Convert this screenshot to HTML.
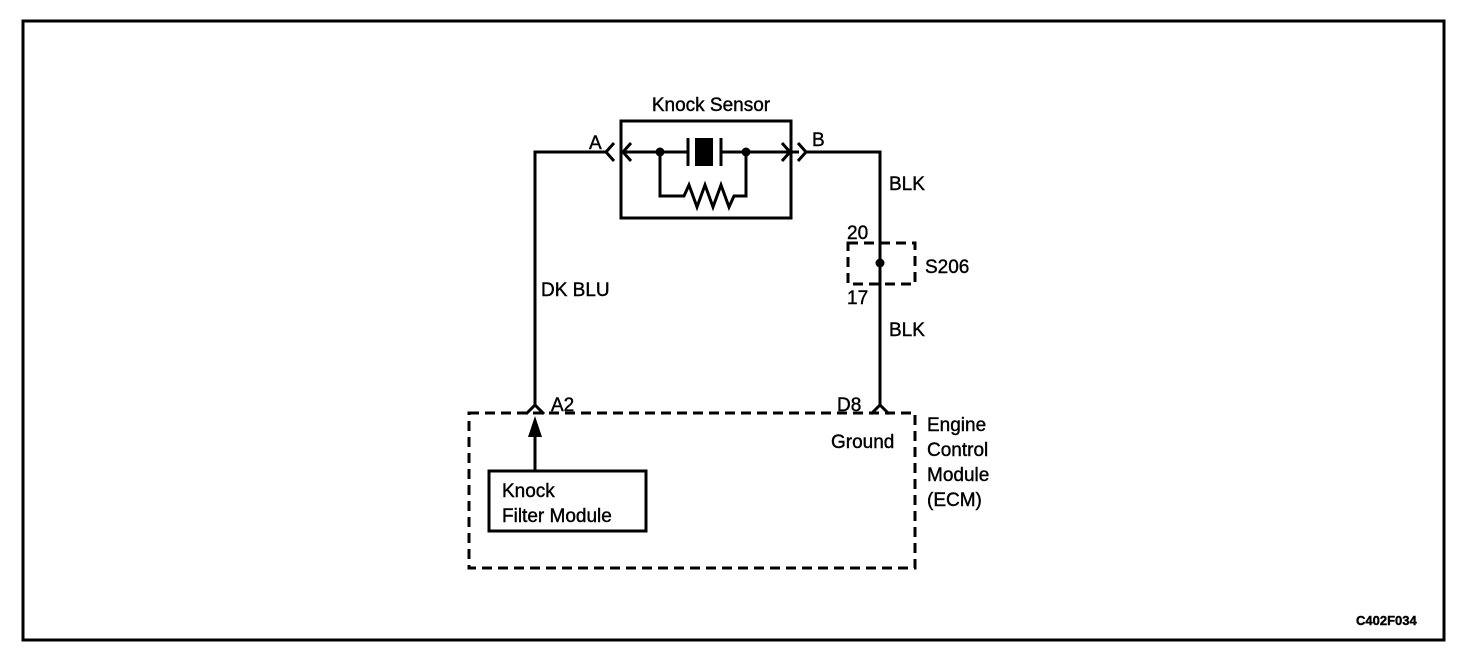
<!DOCTYPE html>
<html><head><meta charset="utf-8"><style>
html,body{margin:0;padding:0;background:#fff;}
svg{display:block;}
text{font-family:"Liberation Sans",Arial,sans-serif;font-size:19px;fill:#000;stroke:#000;stroke-width:0.4;}
</style></head><body>
<svg width="1472" height="662" viewBox="0 0 1472 662" xmlns="http://www.w3.org/2000/svg">
<rect x="23" y="21" width="1421" height="619" fill="none" stroke="#000" stroke-width="3"/>
<g stroke="#000" stroke-width="3" fill="none">
<rect x="621" y="121" width="170" height="97"/>
<polyline points="535,406 535,152 608,152"/>
<polyline points="614,143 606,152 614,161"/>
<polyline points="631,143 623,152 631,161"/>
<line x1="623" y1="152" x2="688" y2="152"/>
<line x1="688" y1="138" x2="688" y2="166"/>
<line x1="721" y1="138" x2="721" y2="166"/>
<line x1="721" y1="152" x2="799" y2="152"/>
<polyline points="782,143 790,152 782,161"/>
<polyline points="798,143 806,152 798,161"/>
<polyline points="806,152 880,152 880,406"/>
<polyline points="660,152 660,196 684,196 689,185 697,207 705,185 713,207 721,185 729,207 734,196 746,196 746,152"/>
<polyline points="526,414 535,405 544,414"/>
<polyline points="871,414 880,405 889,414"/>
<line x1="535" y1="470" x2="535" y2="434"/>
<rect x="489" y="471" width="157" height="60"/>
</g>
<rect x="695" y="138" width="18" height="28" fill="#000"/>
<circle cx="660" cy="152" r="4.5" fill="#000"/>
<circle cx="746" cy="152" r="4.5" fill="#000"/>
<circle cx="880" cy="263" r="4.5" fill="#000"/>
<polygon points="535,416 528,437 542,437" fill="#000"/>
<g stroke="#000" stroke-width="3" fill="none" stroke-dasharray="10,6">
<rect x="848" y="243" width="67" height="41"/>
<rect x="469" y="413" width="446" height="155"/>
</g>
<text x="711" y="111" text-anchor="middle">Knock Sensor</text>
<text x="589" y="149">A</text>
<text x="812" y="146">B</text>
<text x="889" y="190">BLK</text>
<text x="847" y="239">20</text>
<text x="925" y="273">S206</text>
<text x="847" y="304">17</text>
<text x="889" y="336">BLK</text>
<text x="541" y="296">DK BLU</text>
<text x="551" y="411">A2</text>
<text x="837" y="411">D8</text>
<text x="831" y="448">Ground</text>
<text x="927" y="431">Engine</text>
<text x="927" y="456">Control</text>
<text x="927" y="481">Module</text>
<text x="927" y="506">(ECM)</text>
<text x="502" y="497">Knock</text>
<text x="502" y="522">Filter Module</text>
<text x="1356" y="625" style="font-size:13px;font-weight:bold">C402F034</text>
</svg>
</body></html>
